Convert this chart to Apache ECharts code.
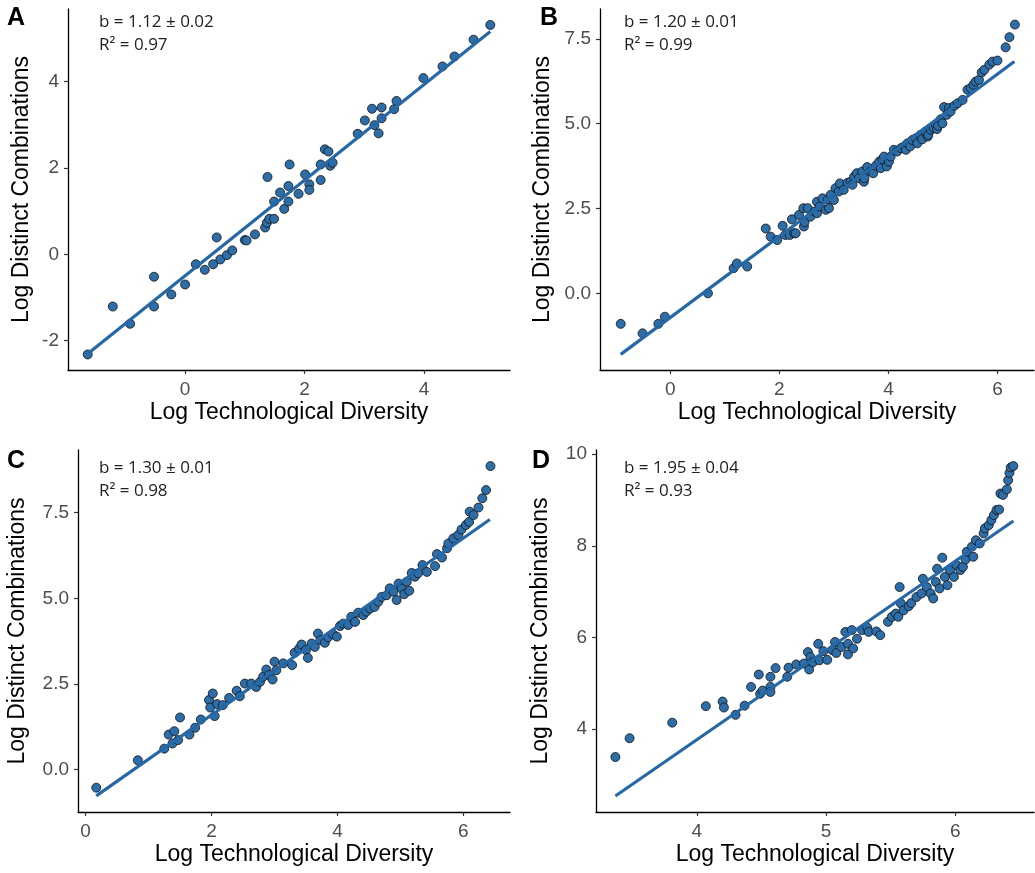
<!DOCTYPE html>
<html lang="en">
<head>
    <meta charset="UTF-8">
    <title>Scaling of combinations</title>
    <script type="text/javascript" src="https://cdn.jsdelivr.net/npm/echarts@6/dist/echarts.min.js"></script>
    <style>
        body { margin: 0; background: #fff; }
        #main { width: 1035px; height: 873px; }
    </style>
</head>
<body>
    <div id="main"></div>
</body>

<script type="text/javascript">

    // panel A
    var pointsA = [
        [-1.63,-2.32],[-1.21,-1.21],[-0.92,-1.61],[-0.52,-0.52],[-0.52,-1.21],[-0.23,-0.93],
        [0.00,-0.70],[0.18,-0.23],[0.33,-0.36],[0.47,-0.23],[0.53,0.39],[0.59,-0.12],
        [0.70,-0.02],[0.79,0.09],[1.00,0.33],[1.03,0.32],[1.17,0.46],[1.34,0.62],
        [1.37,0.73],[1.38,1.79],[1.41,0.82],[1.49,0.82],[1.49,1.22],[1.59,1.43],
        [1.66,1.05],[1.73,1.22],[1.73,1.58],[1.75,2.08],[1.90,1.40],[2.01,1.85],
        [2.08,1.62],[2.08,1.49],[2.27,1.72],[2.27,2.08],[2.34,2.43],[2.40,2.38],
        [2.43,2.05],[2.47,2.12],[2.89,2.79],[3.01,3.10],[3.13,3.37],[3.17,2.99],
        [3.24,2.80],[3.29,3.40],[3.29,3.15],[3.50,3.36],[3.54,3.55],[3.99,4.08],
        [4.31,4.35],[4.51,4.58],[4.83,4.97],[5.11,5.31]
    ];
    var fitA = [[-1.62,-2.29],[5.11,5.16]];

    // panel B
    var pointsB = [
        [-0.91,-0.90],[-0.51,-1.18],[-0.22,-0.90],[-0.10,-0.69],[0.69,0.00],[1.16,0.74],
        [1.22,0.88],[1.41,0.79],[1.75,1.91],[1.84,1.67],[1.96,1.57],[2.06,1.99],
        [2.11,1.72],[2.19,1.72],[2.23,2.18],[2.27,1.77],[2.30,1.77],[2.36,2.31],
        [2.44,2.51],[2.45,1.97],[2.46,2.10],[2.52,2.51],[2.57,2.26],[2.65,2.41],
        [2.69,2.70],[2.69,2.36],[2.74,2.56],[2.79,2.80],[2.85,2.46],[2.89,2.77],
        [2.91,2.51],[2.94,2.90],[3.00,2.75],[3.03,3.10],[3.09,3.00],[3.11,3.24],
        [3.18,3.05],[3.25,3.26],[3.31,3.29],[3.34,3.20],[3.37,3.44],[3.42,3.54],
        [3.46,3.39],[3.52,3.59],[3.55,3.29],[3.56,3.39],[3.61,3.72],[3.67,3.59],
        [3.72,3.54],[3.77,3.76],[3.83,3.88],[3.86,3.69],[3.89,3.95],[3.92,4.03],
        [3.97,3.74],[4.01,3.88],[4.04,4.03],[4.10,4.23],[4.16,4.18],[4.23,4.28],
        [4.29,4.33],[4.32,4.23],[4.35,4.42],[4.40,4.33],[4.44,4.52],[4.50,4.57],
        [4.53,4.42],[4.59,4.67],[4.62,4.54],[4.68,4.77],[4.72,4.62],[4.73,4.67],
        [4.78,4.82],[4.83,4.87],[4.87,4.97],[4.89,4.84],[4.91,4.94],[4.96,5.13],
        [4.99,5.01],[5.02,5.49],[5.07,5.26],[5.11,5.46],[5.14,5.36],[5.21,5.53],
        [5.27,5.60],[5.36,5.70],[5.45,6.00],[5.51,6.05],[5.56,6.15],[5.60,6.24],
        [5.66,6.29],[5.71,6.51],[5.76,6.59],[5.85,6.74],[5.91,6.83],[6.00,6.86],
        [6.15,7.25],[6.22,7.55],[6.32,7.92]
    ];
    var fitB = [[-0.91,-1.80],[6.31,6.83]];

    // panel C
    var pointsC = [
        [0.17,-0.53],[0.83,0.27],[1.25,0.61],[1.32,1.02],[1.38,0.76],[1.41,1.12],
        [1.47,0.86],[1.50,1.52],[1.65,1.02],[1.74,1.22],[1.83,1.46],[1.96,2.03],
        [1.98,1.81],[2.02,2.22],[2.05,1.56],[2.09,1.91],[2.18,1.88],[2.28,2.09],
        [2.40,2.30],[2.45,2.14],[2.53,2.51],[2.63,2.51],[2.71,2.41],[2.77,2.56],
        [2.82,2.71],[2.87,2.92],[2.91,2.76],[2.97,2.63],[3.00,3.15],[3.03,2.90],
        [3.14,3.10],[3.28,3.05],[3.32,3.41],[3.39,3.53],[3.43,3.65],[3.50,3.49],
        [3.53,3.26],[3.59,3.68],[3.64,3.58],[3.69,3.97],[3.73,3.78],[3.80,3.70],
        [3.85,3.86],[3.93,3.95],[3.99,3.88],[4.04,4.19],[4.09,4.26],[4.17,4.22],
        [4.22,4.46],[4.28,4.31],[4.33,4.58],[4.41,4.51],[4.46,4.61],[4.52,4.70],
        [4.59,4.75],[4.65,4.90],[4.70,5.04],[4.78,5.09],[4.83,5.29],[4.89,5.19],
        [4.94,4.95],[4.97,5.43],[5.02,5.29],[5.06,5.12],[5.10,5.48],[5.14,5.22],
        [5.18,5.74],[5.23,5.63],[5.28,5.73],[5.35,5.97],[5.42,5.77],[5.55,5.94],
        [5.58,6.29],[5.66,6.19],[5.74,6.46],[5.76,6.60],[5.84,6.75],[5.92,6.85],
        [5.97,7.01],[6.04,7.14],[6.09,7.23],[6.10,7.53],[6.16,7.43],[6.24,7.65],
        [6.30,7.92],[6.36,8.16],[6.43,8.86]
    ];
    var fitC = [[0.17,-0.77],[6.42,7.30]];

    // panel D
    var pointsD = [
        [3.37,3.39],[3.48,3.80],[3.81,4.14],[4.07,4.50],[4.20,4.60],[4.21,4.47],
        [4.30,4.31],[4.37,4.51],[4.42,4.92],[4.48,5.19],[4.49,4.77],[4.51,4.84],
        [4.57,5.14],[4.57,4.92],[4.57,4.81],[4.61,5.33],[4.70,5.14],[4.71,5.34],
        [4.77,5.41],[4.83,5.43],[4.86,5.68],[4.87,5.30],[4.88,5.57],[4.90,5.46],
        [4.94,5.86],[4.95,5.50],[4.98,5.70],[5.01,5.51],[5.05,5.72],[5.07,5.90],
        [5.08,5.66],[5.12,5.79],[5.15,6.12],[5.17,5.63],[5.17,5.86],[5.20,6.16],
        [5.21,5.76],[5.24,5.97],[5.28,6.16],[5.32,6.21],[5.33,6.12],[5.39,6.13],
        [5.42,6.05],[5.48,6.34],[5.51,6.45],[5.54,6.52],[5.56,6.45],[5.57,7.10],
        [5.58,6.74],[5.60,6.59],[5.64,6.68],[5.66,6.75],[5.70,6.88],[5.74,6.96],
        [5.75,7.28],[5.78,7.10],[5.81,6.96],[5.83,6.85],[5.85,7.21],[5.86,7.50],
        [5.88,7.07],[5.90,7.74],[5.92,7.32],[5.94,7.14],[5.96,7.47],[5.99,7.32],
        [6.01,7.58],[6.04,7.47],[6.06,7.54],[6.08,7.70],[6.09,7.87],[6.13,7.98],
        [6.14,7.76],[6.16,8.12],[6.19,8.05],[6.22,8.27],[6.23,8.38],[6.26,8.45],
        [6.28,8.56],[6.30,8.67],[6.32,8.78],[6.34,8.79],[6.35,9.14],[6.37,9.11],
        [6.40,9.23],[6.41,9.43],[6.42,9.59],[6.43,9.71],[6.45,9.74]
    ];
    var fitD = [[3.37,2.54],[6.45,8.54]];

    // ticks
    var xTicksA = [0, 2, 4],        yTicksA = [-2, 0, 2, 4];
    var xTicksB = [0, 2, 4, 6],     yTicksB = [0, 2.5, 5, 7.5];
    var xTicksC = [0, 2, 4, 6],     yTicksC = [0, 2.5, 5, 7.5];
    var xTicksD = [4, 5, 6],        yTicksD = [4, 6, 8, 10];

    var letters = ['A', 'B', 'C', 'D'];
    var slopes = ['b = 1.12 ± 0.02', 'b = 1.20 ± 0.01', 'b = 1.30 ± 0.01', 'b = 1.95 ± 0.04'];
    var rsq = ['R² = 0.97', 'R² = 0.99', 'R² = 0.98', 'R² = 0.93'];

    var PT_COLOR = '#2d6da8';
    var LINE_COLOR = '#2668a6';
    var SANS = '"Liberation Sans", Arial, sans-serif';

    function xAx(idx, min, max, ticks, fmt) {
        return {
            type: 'value', gridIndex: idx, min: min, max: max,
            name: 'Log Technological Diversity', nameLocation: 'middle', nameGap: 31,
            nameTextStyle: { fontFamily: SANS, fontSize: 23, color: '#000' },
            axisLine: { onZero: false, lineStyle: { color: '#000', width: 1.3 } },
            axisTick: { show: true, length: 4, customValues: ticks, lineStyle: { color: '#333', width: 1.2 } },
            axisLabel: { customValues: ticks, margin: 10, fontFamily: SANS, fontSize: 19, color: '#4d4d4d',
                formatter: fmt },
            splitLine: { show: false }
        };
    }
    function yAx(idx, min, max, ticks, fmt, gap) {
        return {
            type: 'value', gridIndex: idx, min: min, max: max,
            name: 'Log Distinct Combinations', nameLocation: 'middle', nameGap: gap,
            nameTextStyle: { fontFamily: SANS, fontSize: 23, color: '#000' },
            axisLine: { show: true, onZero: false, lineStyle: { color: '#000', width: 1.3 } },
            axisTick: { show: true, length: 4, customValues: ticks, lineStyle: { color: '#333', width: 1.2 } },
            axisLabel: { customValues: ticks, margin: 9, fontFamily: SANS, fontSize: 19, color: '#4d4d4d',
                formatter: fmt },
            splitLine: { show: false }
        };
    }
    var intFmt = function (v) { return String(v); };
    var oneDec = function (v) { return v.toFixed(1); };

    function scatter(idx, data) {
        return {
            type: 'scatter', xAxisIndex: idx, yAxisIndex: idx, data: data,
            symbolSize: 9, z: 2,
            itemStyle: { color: PT_COLOR, borderColor: '#111', borderWidth: 0.8, opacity: 1 }
        };
    }
    function fit(idx, data) {
        return {
            type: 'line', xAxisIndex: idx, yAxisIndex: idx, data: data,
            showSymbol: false, symbol: 'none', z: 3,
            lineStyle: { color: LINE_COLOR, width: 3.2 }
        };
    }

    // text overlay: panel letters and fit stats
    var letterPos = [[7, 19], [540, 19], [7, 462], [532, 462]];
    var statPos = [[99, 25], [624, 25], [99, 471], [624, 471]];
    var graphics = [];
    for (var i = 0; i < 4; i++) {
        graphics.push({
            type: 'text', left: letterPos[i][0], top: letterPos[i][1] - 13,
            style: { text: letters[i], font: 'bold 25px ' + SANS, fill: '#000' }
        });
        graphics.push({
            type: 'text', left: statPos[i][0], top: statPos[i][1] - 11,
            style: { text: slopes[i], font: '17px "Open Sans", sans-serif', fill: '#222' }
        });
        graphics.push({
            type: 'text', left: statPos[i][0], top: statPos[i][1] + 12,
            style: { text: rsq[i], font: '17px "Open Sans", sans-serif', fill: '#222' }
        });
    }

    var myChart = echarts.init(document.getElementById('main'));
    var option = {
        animation: false,
        backgroundColor: '#fff',
        grid: [
            { left: 68, top: 9, width: 442, height: 361 },
            { left: 600, top: 9, width: 434, height: 361 },
            { left: 78, top: 450, width: 432, height: 362 },
            { left: 596, top: 450, width: 438, height: 362 }
        ],
        xAxis: [
            xAx(0, -1.96, 5.44, xTicksA, intFmt),
            xAx(1, -1.29, 6.67, xTicksB, intFmt),
            xAx(2, -0.12, 6.74, xTicksC, intFmt),
            xAx(3, 3.22, 6.61, xTicksD, intFmt)
        ],
        yAxis: [
            yAx(0, -2.68, 5.68, yTicksA, intFmt, 35),
            yAx(1, -2.26, 8.38, yTicksB, oneDec, 46),
            yAx(2, -1.24, 9.33, yTicksC, oneDec, 49),
            yAx(3, 2.19, 10.09, yTicksD, intFmt, 44)
        ],
        graphic: graphics,
        series: [
            scatter(0, pointsA), fit(0, fitA),
            scatter(1, pointsB), fit(1, fitB),
            scatter(2, pointsC), fit(2, fitC),
            scatter(3, pointsD), fit(3, fitD)
        ]
    };
    myChart.setOption(option);

</script>
</html>
